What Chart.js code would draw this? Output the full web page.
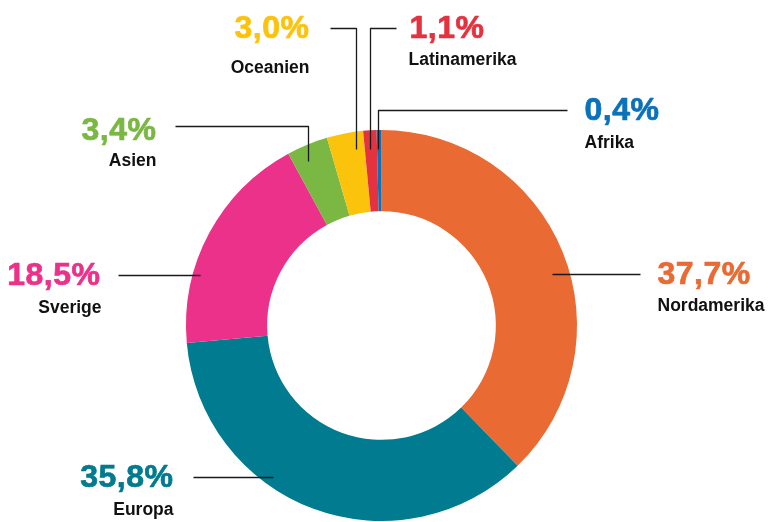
<!DOCTYPE html>
<html>
<head>
<meta charset="utf-8">
<script src="https://cdn.jsdelivr.net/npm/chart.js@4"></script>
<style>
  html, body { margin: 0; padding: 0; background: #fff; }
  canvas { display: block; }
</style>
</head>
<body>
<canvas id="regionChart" width="769" height="522"></canvas>
<script>
// ── Data ────────────────────────────────────────────────
const regions = ['Nordamerika', 'Europa', 'Sverige', 'Asien', 'Oceanien', 'Latinamerika', 'Afrika'];
const shares = [37.7, 35.8, 18.5, 3.4, 3.0, 1.1, 0.4];
const shareLabels = ['37,7%', '35,8%', '18,5%', '3,4%', '3,0%', '1,1%', '0,4%'];
const colors = ['#E96A33', '#007B8F', '#EC318A', '#7AB743', '#FCC30D', '#E5323F', '#0A72BA'];

// ── Label layout (offsets from donut centre) ────────────
// line: leader polyline, pct/name: text anchor, align: text alignment
const layout = [
    { line: [[171, -51], [259, -51]], pct: [276, -50], name: [276, -19], align: 'left' },
    { line: [[-188, 152], [-108, 152]], pct: [-208, 153], name: [-208, 185], align: 'right' },
    { line: [[-263, -50], [-181, -50]], pct: [-281, -49], name: [-280, -17], align: 'right' },
    { line: [[-206, -199], [-73, -199], [-73, -164]], pct: [-225, -194], name: [-225, -164], align: 'right' },
    { line: [[-51, -297], [-25, -297], [-25, -176]], pct: [-72, -296], name: [-72, -257], align: 'right' },
    { line: [[15, -297], [-11, -297], [-11, -176]], pct: [28, -296], name: [27, -265], align: 'left' },
    { line: [[-3, -176], [-3, -215], [186, -215]], pct: [203, -214], name: [203, -182], align: 'left' }
];

// ── Callout plugin ──────────────────────────────────────
const callouts = {
    id: 'callouts',
    afterDraw(chart) {
        const arc = chart.getDatasetMeta(0).data[0];
        const cx = arc.x, cy = arc.y;
        const ctx = chart.ctx;
        ctx.save();
        layout.forEach((l, i) => {
            ctx.beginPath();
            l.line.forEach(([dx, dy], j) => {
                j ? ctx.lineTo(cx + dx, cy + dy) : ctx.moveTo(cx + dx, cy + dy);
            });
            ctx.strokeStyle = '#1a1a1a';
            ctx.lineWidth = 1.3;
            ctx.stroke();

            ctx.textAlign = l.align;
            ctx.textBaseline = 'middle';
            ctx.fillStyle = colors[i];
            ctx.strokeStyle = colors[i];
            ctx.lineWidth = 0.7;
            ctx.lineJoin = 'round';
            ctx.letterSpacing = '0.5px';
            ctx.font = 'bold 32px "Liberation Sans", Arial, sans-serif';
            ctx.fillText(shareLabels[i], cx + l.pct[0], cy + l.pct[1]);
            ctx.strokeText(shareLabels[i], cx + l.pct[0], cy + l.pct[1]);
            ctx.letterSpacing = '0px';
            ctx.fillStyle = '#111';
            ctx.font = 'bold 17.5px "Liberation Sans", Arial, sans-serif';
            ctx.fillText(regions[i], cx + l.name[0], cy + l.name[1]);
        });
        ctx.restore();
    }
};

// ── Chart ───────────────────────────────────────────────
new Chart(document.getElementById('regionChart'), {
    type: 'doughnut',
    data: {
        labels: regions,
        datasets: [{
            data: shares,
            backgroundColor: colors,
            borderWidth: 0
        }]
    },
    options: {
        responsive: false,
        animation: false,
        cutout: '58.5%',
        layout: { padding: { left: 186, right: 192, top: 130, bottom: 1 } },
        plugins: {
            legend: { display: false },
            tooltip: { enabled: false }
        }
    },
    plugins: [callouts]
});
</script>
</body>
</html>
